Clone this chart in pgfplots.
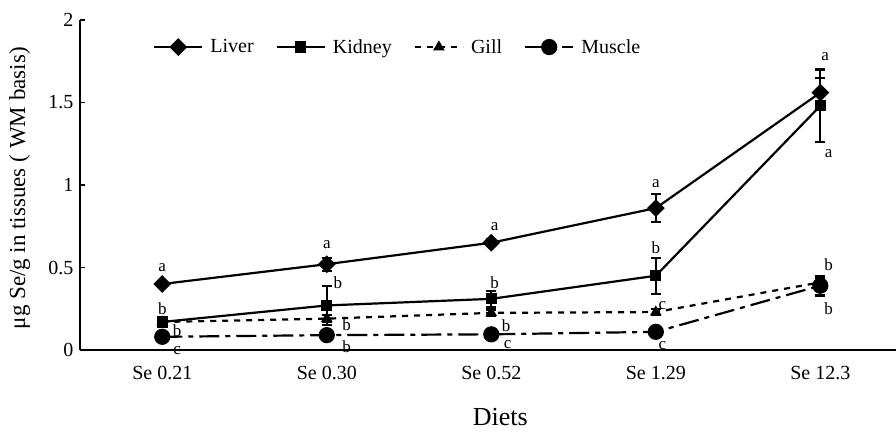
\documentclass[border=0pt]{standalone}
\usepackage{pgfplots}
\pgfplotsset{compat=1.18}
\usepackage{fontspec}
\setmainfont{Liberation Serif}
\begin{document}
\begin{tikzpicture}
\begin{axis}[
  name=ax,
  scale only axis, width=816pt, height=330pt,
  xmin=-0.5, xmax=4.46, ymin=0, ymax=2,
  axis x line=bottom, axis y line=left,
  axis line style={line width=2.4pt, -},
  xtick={0,1,2,3,4},
  xticklabels={Se 0.21, Se 0.30, Se 0.52, Se 1.29, Se 12.3},
  major x tick style={draw=none},
  extra x ticks={0.5,1.5,2.5,3.5},
  extra x tick labels={},
  extra x tick style={tick style={line width=1.6pt, black}, major tick length=5pt, tick align=inside},
  ytick={0,0.5,1,1.5,2},
  yticklabels={0,0.5,1,1.5,2},
  y tick style={line width=1.6pt, black}, major tick length=5pt, tick align=inside,
  tick label style={font=\fontsize{20}{22}\selectfont},
  xticklabel style={anchor=north, yshift=-13pt},
  yticklabel style={anchor=east, xshift=-3pt},
  xlabel={Diets},
  xlabel style={font=\fontsize{26}{28}\selectfont, at={(axis description cs:0.515,0)}, anchor=base, yshift=-75pt},
  ylabel={μg Se/g in tissues ( WM basis)},
  ylabel style={font=\fontsize{23}{25}\selectfont, at={(axis description cs:-0.074,0.49)}, anchor=center, rotate=0},
  legend style={draw=none, fill=none, inner sep=0pt, at={(axis description cs:0.0895,0.918)}, anchor=west, legend columns=-1,
    font=\fontsize{20}{22}\selectfont,
    /tikz/every odd column/.append style={column sep=7pt},
    /tikz/every even column/.append style={column sep=22pt},
    nodes={inner sep=0pt}},
  legend image code/.code={\draw[#1] (0pt,0pt) -- (48pt,0pt); \draw[#1, solid] plot coordinates {(24pt,0pt)};},
  every axis plot/.append style={line width=2.2pt, black},
  error bars/error bar style={line width=2.2pt, solid},
  error bars/error mark options={rotate=90, mark size=5pt, line width=2.2pt, solid},
  clip=false,
]
\addplot[mark=square*, mark size=5.2pt, mark options={solid, fill=black, rotate=45}, error bars/.cd, y dir=both, y explicit]
  table[x=x, y=y, y error=e] {
x y e
0 0.40 0.0
1 0.52 0.04
2 0.65 0.02
3 0.86 0.085
4 1.56 0.09
};
\addlegendentry{Liver}
\addplot[mark=square*, mark size=4.5pt, mark options={solid, fill=black}, error bars/.cd, y dir=both, y explicit]
  table[x=x, y=y, y error=e] {
x y e
0 0.17 0.03
1 0.27 0.12
2 0.31 0.05
3 0.45 0.11
4 1.48 0.22
};
\addlegendentry{Kidney}
\addplot[dash pattern=on 6pt off 6pt, mark=triangle*, mark size=4.5pt, mark options={solid, fill=black}, error bars/.cd, y dir=both, y explicit]
  table[x=x, y=y, y error=e] {
x y e
0 0.17 0.02
1 0.19 0.02
2 0.225 0.02
3 0.23 0.02
4 0.41 0.03
};
\addlegendentry{Gill}
\addplot[dash pattern=on 20pt off 6pt on 5pt off 6pt, mark=*, mark size=7pt, mark options={solid, fill=black}, error bars/.cd, y dir=both, y explicit]
  table[x=x, y=y, y error=e] {
x y e
0 0.08 0.0
1 0.09 0.0
2 0.095 0.0
3 0.11 0.0
4 0.39 0.06
};
\addlegendentry{Muscle}
\begin{scope}[every node/.style={font=\fontsize{17}{19}\selectfont, inner sep=0pt}]
% Liver
\node at (axis cs:0,0.50) {a};
\node at (axis cs:1,0.64) {a};
\node at (axis cs:2.02,0.75) {a};
\node at (axis cs:3,1.01) {a};
\node at (axis cs:4.03,1.78) {a};
% Kidney
\node at (axis cs:0,0.25) {b};
\node at (axis cs:1.067,0.41) {b};
\node at (axis cs:2.02,0.41) {b};
\node at (axis cs:3.0,0.62) {b};
\node at (axis cs:4.05,1.19) {a};
% Gill
\node at (axis cs:0.09,0.115) {b};
\node at (axis cs:1.12,0.155) {b};
\node at (axis cs:2.09,0.145) {b};
\node at (axis cs:3.04,0.27) {c};
\node at (axis cs:4.05,0.515) {b};
% Muscle
\node at (axis cs:0.09,-0.005) {c};
\node at (axis cs:1.12,0.02) {b};
\node at (axis cs:2.1,0.03) {c};
\node at (axis cs:3.04,0.025) {c};
\node at (axis cs:4.05,0.25) {b};
\end{scope}
\end{axis}
\pgfresetboundingbox
\path[use as bounding box] ([shift={(-80pt,-81pt)}]ax.south west) rectangle ([shift={(0pt,20pt)}]ax.north east);
\end{tikzpicture}
\end{document}
